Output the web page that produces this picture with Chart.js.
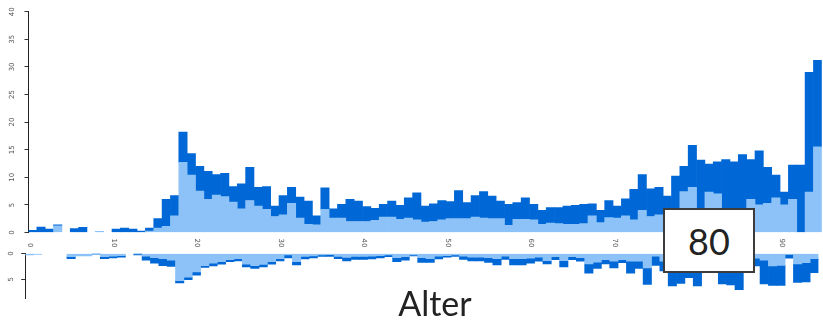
<!DOCTYPE html>
<html>
<head>
<meta charset="utf-8">
<script src="https://cdn.jsdelivr.net/npm/chart.js@4.4.1/dist/chart.umd.min.js"></script>
<style>
  html, body { margin: 0; padding: 0; background: #fff; }
  #wrap { position: relative; width: 823px; height: 322px; overflow: hidden; font-family: Lato, "Open Sans", sans-serif; }
  #upper { position: absolute; left: 0; top: 0; }
  #lower { position: absolute; left: 0; top: 240px; }
  #marker { position: absolute; left: 663px; top: 208px; width: 88px; height: 61px; border: 2px solid #3c3c3c;
            background: #fff; display: flex; align-items: center; justify-content: center; font-size: 36px; color: #222; }
  #xtitle { position: absolute; left: 0; top: 283px; width: 870px; text-align: center; font-size: 34px; line-height: 40px; color: #222; }
</style>
</head>
<body>
<div id="wrap">
  <canvas id="lower" width="823" height="70"></canvas>
  <canvas id="upper" width="823" height="254"></canvas>
  <div id="marker">80</div>
  <div id="xtitle">Alter</div>
</div>
<script>
// one bin per year of age, 0..94
const ages = Array.from({ length: 95 }, (_, i) => i);

// upper panel: bar height (dark top) and light part
const upperTotal = [
  0.4, 1.0, 0.6, 1.4, 0, 0.7, 0.95, 0, 0.2, 0,
  0.6, 0.8, 0.6, 0.25, 0.8, 2.5, 6.0, 6.7, 18.2, 14.3,
  12.0, 11.1, 10.5, 10.7, 8.3, 8.8, 11.8, 8.2, 8.3, 4.8,
  6.7, 8.2, 6.4, 5.7, 3.0, 8.1, 4.3, 5.1, 6.0, 5.7,
  4.7, 4.4, 5.1, 5.7, 4.9, 6.3, 7.2, 4.8, 5.2, 5.8,
  5.6, 7.6, 5.4, 6.7, 7.4, 6.6, 5.7, 5.1, 5.4, 6.3,
  5.1, 4.0, 4.5, 4.5, 4.8, 4.9, 5.1, 5.2, 4.0, 5.8,
  4.8, 6.1, 7.8, 10.5, 7.9, 8.2, 6.6, 10.2, 12.0, 15.8,
  13.1, 12.4, 12.8, 13.2, 12.8, 14.1, 13.2, 14.8, 11.8, 10.4,
  7.3, 12.2, 12.2, 29.0, 31.2
];
const upperLight = [
  0, 0, 0, 1.2, 0, 0, 0, 0, 0.2, 0,
  0, 0, 0, 0, 0.25, 0.8, 1.1, 3.0, 12.7, 10.4,
  7.5, 6.0, 6.8, 6.5, 5.5, 4.3, 5.8, 4.8, 4.2, 2.9,
  3.2, 5.3, 2.6, 1.5, 1.4, 4.2, 2.6, 2.6, 2.0, 2.0,
  2.0, 2.2, 2.8, 2.8, 2.4, 2.6, 2.3, 1.9, 2.0, 2.3,
  2.5, 2.5, 2.5, 2.8, 2.6, 2.5, 2.5, 1.3, 2.4, 2.4,
  2.3, 1.5, 1.7, 1.6, 1.5, 1.5, 1.6, 3.0, 1.8, 2.7,
  2.6, 3.0, 2.3, 4.0, 2.9, 3.2, 3.0, 3.5, 7.4, 8.2,
  3.5, 7.3, 7.0, 3.5, 3.0, 4.0, 6.0, 5.0, 5.3, 6.3,
  5.0, 6.0, 0, 7.3, 15.5
];

// lower panel (drawn downwards)
const lowerTotal = [
  0.3, 0.2, 0, 0, 0, 1.0, 0.45, 0.45, 0.15, 1.0,
  0.85, 0.7, 0, 0.3, 1.3, 1.9, 2.35, 2.5, 5.7, 5.1,
  4.2, 2.7, 2.4, 2.05, 1.6, 1.45, 2.6, 2.9, 2.6, 2.05,
  1.45, 0.86, 2.2, 1.05, 0.86, 0.56, 0.56, 1.0, 1.45, 1.15,
  1.15, 1.05, 0.85, 0.6, 1.6, 1.3, 0.45, 1.75, 1.75, 1.05,
  0.7, 0.56, 1.15, 1.45, 1.45, 1.75, 2.2, 1.15, 2.2, 2.2,
  1.9, 1.5, 2.0, 1.2, 2.6, 1.2, 1.5, 3.8, 2.9, 2.0,
  2.8, 1.8, 3.8, 2.9, 6.0, 2.3, 3.4, 6.3, 5.8, 4.7,
  6.3, 3.2, 3.3, 5.9, 6.1, 7.0, 3.0, 2.4, 5.9, 6.2,
  6.2, 0.9, 5.6, 5.5, 3.7
];
const lowerLight = [
  0.3, 0.2, 0, 0, 0, 0.6, 0.45, 0.45, 0.05, 0.6,
  0.5, 0.4, 0, 0.05, 0.5, 0.8, 1.0, 1.3, 5.3, 4.6,
  3.6, 2.35, 1.9, 1.6, 1.2, 1.0, 2.05, 2.35, 2.1, 1.6,
  1.0, 0.3, 1.6, 0.55, 0.45, 0.3, 0.25, 0.55, 0.75, 0.55,
  0.55, 0.5, 0.4, 0.3, 0.8, 0.6, 0.3, 0.8, 1.0, 0.5,
  0.4, 0.3, 0.5, 0.7, 0.7, 0.8, 1.0, 0.5, 1.0, 1.0,
  0.9, 0.7, 1.4, 0.6, 1.4, 0.6, 0.8, 2.0, 1.7, 1.2,
  1.5, 1.2, 1.5, 1.5, 2.8, 0.5, 1.5, 2.5, 2.5, 2.0,
  2.5, 1.5, 1.5, 2.0, 2.0, 2.5, 1.5, 0.9, 1.3, 2.4,
  2.3, 0.2, 2.0, 1.8, 1.0
];

const DARK = '#0068d6';
const LIGHT = '#8cc2f7';

// bin i sits between i and i+1 on the linear age axis
function pts(vals) {
  return vals.map((v, i) => ({ x: ages[i] + 0.5, y: v > 0 ? v : null }));
}
function rest(total, light) {
  return total.map((t, i) => Math.round((t - light[i]) * 100) / 100);
}
function barSet(vals, color) {
  return { data: pts(vals), backgroundColor: color, borderWidth: 0, barPercentage: 1, categoryPercentage: 1 };
}

const tickFont = { family: 'DejaVu Sans', size: 7 };

new Chart(document.getElementById('upper'), {
  type: 'bar',
  data: { datasets: [barSet(upperLight, LIGHT), barSet(rest(upperTotal, upperLight), DARK)] },
  options: {
    responsive: false, animation: false, devicePixelRatio: 1,
    layout: { padding: { top: 8, right: 1.2, bottom: 0, left: 0 } },
    plugins: { legend: { display: false }, tooltip: { enabled: false } },
    scales: {
      x: {
        type: 'linear', stacked: true, min: 0, max: 95, offset: false,
        afterFit: s => { s.height = 21.5; },
        grid: { display: false, offset: false }, border: { display: false },
        ticks: { stepSize: 10, includeBounds: false, minRotation: -90, maxRotation: -90,
                 padding: 7, labelOffset: 1.5, font: tickFont, color: '#555' }
      },
      y: {
        stacked: true, min: 0, max: 40,
        afterFit: s => { s.width = 28.5; },
        grid: { drawOnChartArea: false, tickLength: 4, color: '#333' },
        border: { color: '#222', width: 1 },
        ticks: { stepSize: 5, minRotation: 90, crossAlign: 'center', padding: 7.5, font: tickFont, color: '#555' }
      }
    }
  }
});

new Chart(document.getElementById('lower'), {
  type: 'bar',
  data: { datasets: [barSet(lowerLight, LIGHT), barSet(rest(lowerTotal, lowerLight), DARK)] },
  options: {
    responsive: false, animation: false, devicePixelRatio: 1,
    layout: { padding: { top: 13.5, right: 4.5, bottom: 7.8, left: 0 } },
    plugins: { legend: { display: false }, tooltip: { enabled: false } },
    scales: {
      x: { type: 'linear', stacked: true, min: 0, max: 95, offset: false, display: false, grid: { offset: false } },
      y: {
        stacked: true, reverse: true, min: 0, max: 8.7,
        afterFit: s => { s.width = 25.2; },
        grid: { drawOnChartArea: false, tickLength: 4, color: '#333' },
        border: { color: '#222', width: 1 },
        ticks: { stepSize: 5, includeBounds: false, minRotation: 90, crossAlign: 'center', padding: 7.5, font: tickFont, color: '#555' }
      }
    }
  }
});
</script>
</body>
</html>
